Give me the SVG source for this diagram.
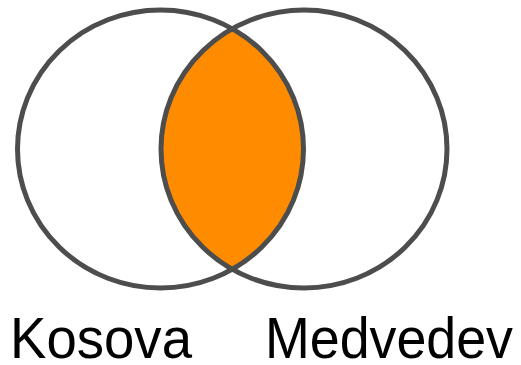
<svg xmlns="http://www.w3.org/2000/svg" width="521" height="365" viewBox="0 0 521 365">
<style>
.c{fill:none;stroke:#4d4d4d;stroke-width:5}
.t{font-family:"Liberation Sans",Arial,sans-serif;font-size:57px;fill:#000}
</style>
<defs>
<clipPath id="clipL"><ellipse cx="160.5" cy="149" rx="143" ry="139"/></clipPath>
</defs>
<rect width="521" height="365" fill="#fff"/>
<g id="intersection">
<ellipse cx="304" cy="149" rx="143" ry="139" fill="#ff8c00" clip-path="url(#clipL)"/>
</g>
<g id="kosova">
<ellipse class="c" cx="160.5" cy="149" rx="143" ry="139"/>
<text class="t" x="10" y="358" textLength="182" lengthAdjust="spacingAndGlyphs">Kosova</text>
</g>
<g id="medvedev">
<ellipse class="c" cx="304" cy="149" rx="143" ry="139"/>
<text class="t" x="265" y="358" textLength="248" lengthAdjust="spacingAndGlyphs">Medvedev</text>
</g>
</svg>
